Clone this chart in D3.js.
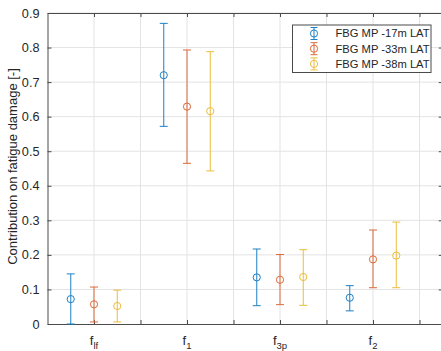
<!DOCTYPE html>
<html><head><meta charset="utf-8">
<script src="https://cdn.jsdelivr.net/npm/d3@7"></script>
<style>html,body{margin:0;padding:0;background:#fff;overflow:hidden}</style>
</head><body>
<svg id="c" width="441" height="351"></svg>
<script>
const categories = ["lf", "1", "3p", "2"];
const seriesNames = ["FBG MP -17m LAT", "FBG MP -33m LAT", "FBG MP -38m LAT"];
const mean17 = [0.072, 0.720, 0.135, 0.076];
const lo17   = [0.000, 0.572, 0.053, 0.038];
const hi17   = [0.145, 0.870, 0.217, 0.111];
const mean33 = [0.057, 0.629, 0.128, 0.187];
const lo33   = [0.006, 0.465, 0.056, 0.105];
const hi33   = [0.107, 0.793, 0.201, 0.272];
const mean38 = [0.052, 0.616, 0.136, 0.198];
const lo38   = [0.006, 0.443, 0.054, 0.105];
const hi38   = [0.098, 0.788, 0.215, 0.295];
const yTicks = [0, 0.1, 0.2, 0.3, 0.4, 0.5, 0.6, 0.7, 0.8, 0.9];
const yLabel = "Contribution on fatigue damage [-]";

const colors = ["#1f80c4", "#db6a3a", "#ebbd3c"];
const offsets = [-0.25, 0, 0.25];
const series = [
  {name: seriesNames[0], mean: mean17, lo: lo17, hi: hi17},
  {name: seriesNames[1], mean: mean33, lo: lo33, hi: hi33},
  {name: seriesNames[2], mean: mean38, lo: lo38, hi: hi38}
];

const svg = d3.select("#c");
const L = 47.5, T = 13, B = 324;
const x = d3.scaleLinear().domain([0.5, 4.75]).range([L, L + 4.25 * 93]);
const y = d3.scaleLinear().domain([0, 0.9]).range([B, T]);
const R = x(4.75);
const xGrid = d3.range(1, 4.75, 0.5);
const axisCol = "#4a4a4a", gridCol = "#e3e3e3", textCol = "#262626";
const font = "Liberation Sans, Arial, sans-serif";

// grid
svg.append("g").selectAll("line").data(yTicks.slice(1)).join("line")
  .attr("x1", L).attr("x2", R).attr("y1", d => y(d)).attr("y2", d => y(d))
  .attr("stroke", gridCol).attr("stroke-width", 1);
svg.append("g").selectAll("line").data(xGrid).join("line")
  .attr("y1", T).attr("y2", B).attr("x1", d => x(d)).attr("x2", d => x(d))
  .attr("stroke", gridCol).attr("stroke-width", 1);

// axes via d3
const tl = 4;
const gB = svg.append("g").attr("transform", `translate(0,${B})`)
  .call(d3.axisBottom(x).tickValues(xGrid).tickSizeInner(-tl).tickSizeOuter(0).tickFormat(""));
const gT = svg.append("g").attr("transform", `translate(0,${T})`)
  .call(d3.axisTop(x).tickValues(xGrid).tickSizeInner(-tl).tickSizeOuter(0).tickFormat(""));
const gL = svg.append("g").attr("transform", `translate(${L},0)`)
  .call(d3.axisLeft(y).tickValues(yTicks).tickSizeInner(-tl).tickSizeOuter(0)
    .tickFormat(d => d === 0 ? "0" : d3.format(".1f")(d)).tickPadding(8));
const gR = svg.append("g").attr("transform", `translate(${R},0)`)
  .call(d3.axisRight(y).tickValues(yTicks).tickSizeInner(-tl).tickSizeOuter(0).tickFormat(""));
[gB, gT, gL, gR].forEach(g => {
  g.selectAll("path").attr("stroke", axisCol).attr("stroke-width", 1);
  g.selectAll("line").attr("stroke", axisCol).attr("stroke-width", 1);
});
gL.selectAll("text").attr("font-family", font).attr("font-size", "12.7px").attr("fill", textCol);

// x category labels
const xl = svg.append("g").selectAll("text").data(categories).join("text")
  .attr("x", (d, i) => x(i + 1)).attr("y", 345)
  .attr("text-anchor", "middle").attr("font-family", font).attr("fill", textCol);
xl.append("tspan").attr("font-size", "13px").text("f");
xl.append("tspan").attr("font-size", "9.5px").attr("dy", 4).text(d => d);

// y label
svg.append("text").attr("transform", `translate(17,${(T + B) / 2 - 2}) rotate(-90)`)
  .attr("text-anchor", "middle").attr("font-family", font).attr("font-size", "13px")
  .attr("fill", textCol).text(yLabel);

// error bars
const cap = 4, rad = 3.6;
series.forEach((s, si) => {
  const g = svg.append("g").attr("stroke", colors[si]).attr("fill", "none").attr("stroke-width", 1);
  const px = i => x(i + 1 + offsets[si]);
  const idx = d3.range(categories.length);
  g.selectAll(".v").data(idx).join("line").attr("x1", px).attr("x2", px)
    .attr("y1", i => y(s.lo[i])).attr("y2", i => y(s.hi[i]));
  g.selectAll(".ct").data(idx).join("line").attr("x1", i => px(i) - cap).attr("x2", i => px(i) + cap)
    .attr("y1", i => y(s.hi[i])).attr("y2", i => y(s.hi[i]));
  g.selectAll(".cb").data(idx).join("line").attr("x1", i => px(i) - cap).attr("x2", i => px(i) + cap)
    .attr("y1", i => y(s.lo[i])).attr("y2", i => y(s.lo[i]));
  g.selectAll("circle").data(idx).join("circle").attr("cx", px).attr("cy", i => y(s.mean[i]))
    .attr("r", rad).attr("fill", "none");
});

// legend
const lg = svg.append("g");
lg.append("rect").attr("x", 292.5).attr("y", 25).attr("width", 138.5).attr("height", 47.5)
  .attr("fill", "#fff").attr("stroke", axisCol).attr("stroke-width", 1);
series.forEach((s, si) => {
  const cy = 33.5 + si * 15.2, cx = 314;
  const g = lg.append("g").attr("stroke", colors[si]).attr("fill", "none").attr("stroke-width", 1);
  g.append("line").attr("x1", cx).attr("x2", cx).attr("y1", cy - 6).attr("y2", cy + 6);
  g.append("line").attr("x1", cx - 3.5).attr("x2", cx + 3.5).attr("y1", cy - 6).attr("y2", cy - 6);
  g.append("line").attr("x1", cx - 3.5).attr("x2", cx + 3.5).attr("y1", cy + 6).attr("y2", cy + 6);
  g.append("circle").attr("cx", cx).attr("cy", cy).attr("r", 3.6);
  lg.append("text").attr("x", 335.5).attr("y", cy + 3.9).attr("font-family", font)
    .attr("font-size", "11.2px").attr("fill", textCol).text(s.name);
});
</script>
</body></html>
